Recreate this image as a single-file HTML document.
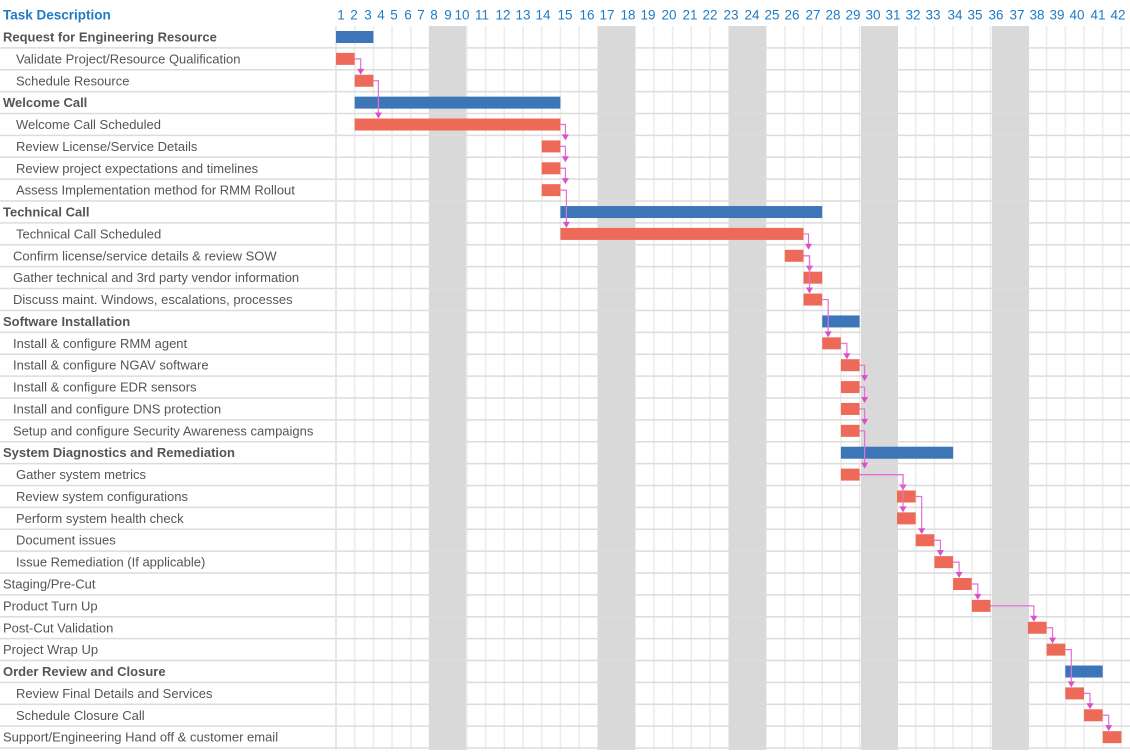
<!DOCTYPE html>
<html><head><meta charset="utf-8"><style>
body{margin:0;width:1130px;height:750px;background:#fff;overflow:hidden;font-family:"Liberation Sans",sans-serif;}
svg text{font-family:"Liberation Sans",sans-serif;}
</style></head><body>
<svg id="s" width="1130" height="750" xmlns="http://www.w3.org/2000/svg"></svg>
<script>
const s=document.getElementById('s');let h='';
const X0=336,CW=18.7,Y0=26,RH=21.88;
const rows=[
["Request for Engineering Resource",1,0,0,2],
["Validate Project/Resource Qualification",0,16,0,1],
["Schedule Resource",0,16,1,2],
["Welcome Call",1,0,1,12],
["Welcome Call Scheduled",0,16,1,12],
["Review License/Service Details",0,16,11,12],
["Review project expectations and timelines",0,16,11,12],
["Assess Implementation method for RMM Rollout",0,16,11,12],
["Technical Call",1,0,12,26],
["Technical Call Scheduled",0,16,12,25],
["Confirm license/service details & review SOW",0,13,24,25],
["Gather technical and 3rd party vendor information",0,13,25,26],
["Discuss maint. Windows, escalations, processes",0,13,25,26],
["Software Installation",1,0,26,28],
["Install & configure RMM agent",0,13,26,27],
["Install & configure NGAV software",0,13,27,28],
["Install & configure EDR sensors",0,13,27,28],
["Install and configure DNS protection",0,13,27,28],
["Setup and configure Security Awareness campaigns",0,13,27,28],
["System Diagnostics and Remediation",1,0,27,33],
["Gather system metrics",0,16,27,28],
["Review system configurations",0,16,30,31],
["Perform system health check",0,16,30,31],
["Document issues",0,16,31,32],
["Issue Remediation (If applicable)",0,16,32,33],
["Staging/Pre-Cut",0,3,33,34],
["Product Turn Up",0,3,34,35],
["Post-Cut Validation",0,3,37,38],
["Project Wrap Up",0,3,38,39],
["Order Review and Closure",1,0,39,41],
["Review Final Details and Services",0,16,39,40],
["Schedule Closure Call",0,16,40,41],
["Support/Engineering Hand off & customer email",0,3,41,42]];
for(let k=0;k<=42;k++){const x=X0+k*CW;h+=`<line x1="${x}" y1="${Y0}" x2="${x}" y2="750" stroke="#ececec" stroke-width="1.5"/>`;}
[[429,466],[598,635],[729,766],[861,898],[992,1029]].forEach(b=>h+=`<rect x="${b[0]}" y="${Y0}" width="${b[1]-b[0]}" height="724" fill="#d9d9d9"/>`);
for(let r=1;r<=33;r++){const y=Y0+r*RH;h+=`<line x1="0" y1="${y}" x2="1130" y2="${y}" stroke="#dcdcdc" stroke-width="1.5"/>`;}
h+=`<line x1="${X0}" y1="${Y0}" x2="${X0}" y2="750" stroke="#e4e4e4" stroke-width="1.5"/>`;
h+=`<text x="3" y="19.5" font-size="13.5" font-weight="bold" fill="#1f7bc6">Task Description</text>`;
const lx=[341,354,368,381,394,408,421,434,448,462,482,503,523,543,565,587,607,628,648,669,690,710,731,752,772,792,813,833,853,873,893,913,933,955,975,996,1017,1037,1057,1077,1098,1118];
lx.forEach((x,i)=>h+=`<text x="${x}" y="19.5" font-size="13.5" fill="#1f7bc6" text-anchor="middle">${i+1}</text>`);
rows.forEach((r,i)=>{const yt=Y0+i*RH;
h+=`<text x="${r[1]?3:r[2]}" y="${yt+15.5}" font-size="13" ${r[1]?'font-weight="bold"':''} fill="#555">${r[0].replace(/&/g,'&amp;')}</text>`;
const x1=X0+r[3]*CW,x2=X0+r[4]*CW;
h+=`<rect x="${x1}" y="${yt+5}" width="${x2-x1}" height="12" fill="${r[1]?'#3d76b8':'#ee6a58'}"/>`;});
const links=[[1,2],[2,4],[4,5],[5,6],[6,7],[7,9],[9,10],[10,11],[10,12],[12,14],[14,15],[15,16],[16,17],[17,18],[18,20],[20,21],[20,22],[21,23],[23,24],[24,25],[25,26],[26,27],[27,28],[28,30],[30,31],[31,32]];
links.forEach(l=>{const a=rows[l[0]],b=rows[l[1]];const ya=Y0+l[0]*RH+11,yb=Y0+l[1]*RH+5;
const xa=X0+a[4]*CW,xs=X0+b[3]*CW;let xv=Math.max(xa+5,xs+6);if(xs>xa+10)xv=xs+6;
h+=`<path d="M${xa} ${ya}H${xv}V${yb-5}" fill="none" stroke="#e56fd8" stroke-width="1.2"/><path d="M${xv-3.5} ${yb-6}L${xv+3.5} ${yb-6}L${xv} ${yb}Z" fill="#d950c8"/>`;});
s.innerHTML=h;
</script>
</body></html>
